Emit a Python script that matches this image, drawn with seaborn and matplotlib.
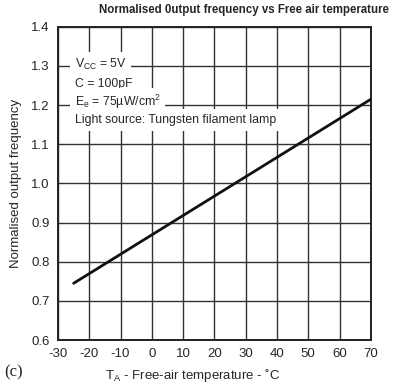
import matplotlib

matplotlib.use("Agg")

import matplotlib.pyplot as plt
import pandas as pd
import seaborn as sns

# ── data ──
temperature_c = [-25, 70]
normalised_freq = [0.745, 1.215]

x_ticks = [-30, -20, -10, 0, 10, 20, 30, 40, 50, 60, 70]
y_ticks = [0.6, 0.7, 0.8, 0.9, 1.0, 1.1, 1.2, 1.3, 1.4]

conditions = [
    r"V$_{\mathregular{CC}}$ = 5V",
    "C = 100pF",
    r"E$_{\mathregular{e}}$ = 75µW/cm$^{\mathregular{2}}$",
    "Light source: Tungsten filament lamp",
]
condition_y = [1.305, 1.255, 1.207, 1.163]

sns.set_style("white")
plt.rcParams["font.family"] = ["Liberation Sans", "DejaVu Sans"]
plt.rcParams["mathtext.fontset"] = "custom"
plt.rcParams["mathtext.rm"] = "Liberation Sans"

fig = plt.figure(figsize=(3.97, 3.83), dpi=100)
ax = fig.add_axes([0.146, 0.112, 0.788, 0.818])

df = pd.DataFrame({"temp": temperature_c, "freq": normalised_freq})
sns.lineplot(data=df, x="temp", y="freq", color="#111111", linewidth=2.0, ax=ax, zorder=3)

ax.set_xlim(-30, 70)
ax.set_ylim(0.6, 1.4)
ax.set_xticks(x_ticks)
ax.set_yticks(y_ticks)
ax.set_xticklabels([str(t) for t in x_ticks], fontsize=9.5)
ax.set_yticklabels([f"{t:.1f}" for t in y_ticks], fontsize=9.5)
ax.tick_params(length=0, pad=6)
ax.grid(True, color="#333333", linewidth=1.0)
for s in ax.spines.values():
    s.set_color("#222222")
    s.set_linewidth(1.4)

for txt, yy in zip(conditions, condition_y):
    ax.text(-24.7, yy, txt, fontsize=8.8, va="center", ha="left", zorder=4,
            bbox=dict(facecolor="white", edgecolor="none", pad=3.5))

ax.set_xlabel(r"T$_{\mathregular{A}}$ - Free-air temperature - ˚C", fontsize=9.5, labelpad=3)
ax.xaxis.set_label_coords(0.43, -0.085)
ax.set_ylabel("Normalised output frequency", fontsize=9.5)
ax.yaxis.set_label_coords(-0.115, 0.5)

fig.text(0.615, 0.975, "Normalised 0utput frequency vs Free air temperature",
         fontsize=8.3, fontweight="bold", ha="center", va="center")
fig.text(0.01, 0.028, "(c)", fontsize=12, family=["Liberation Serif"], ha="left", va="center")

fig.savefig("out.png", dpi=100)
